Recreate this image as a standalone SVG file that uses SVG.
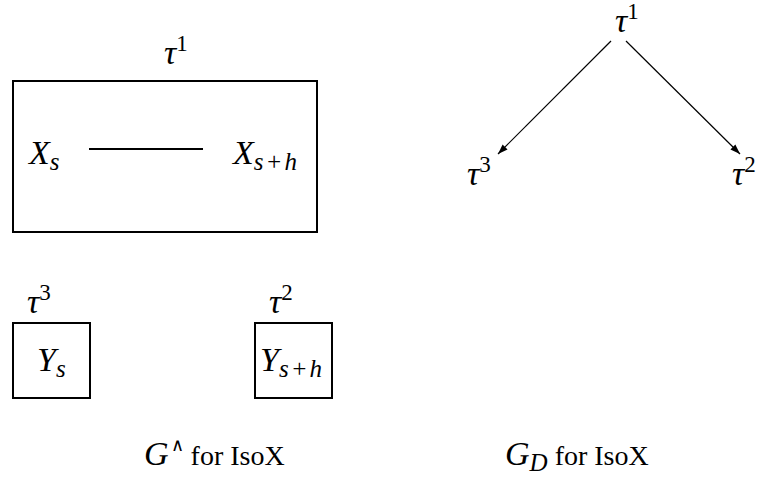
<svg xmlns="http://www.w3.org/2000/svg" width="771" height="484" viewBox="0 0 771 484" font-family="Liberation Serif, DejaVu Serif, serif">
<style>
text{font-family:'Liberation Serif',serif;fill:#000}
.m{font-style:italic;font-size:34px}
.r{font-size:28px;font-style:normal}
.sup{font-size:23px;font-style:normal}
.sub{font-size:25px;font-style:italic;letter-spacing:2px}
.subd{font-size:25px;font-style:italic}
.wedge{font-size:18px;font-style:normal}
.box{fill:none;stroke:#000;stroke-width:2}
.edge{fill:none;stroke:#000;stroke-width:1.2}
</style>
<defs>
<marker id="ah" viewBox="0 0 10 10" refX="10" refY="5" markerWidth="10" markerHeight="10" markerUnits="userSpaceOnUse" orient="auto">
<path d="M0,1.5 L10,5 L0,8.5 Z" fill="#000"/>
</marker>
</defs>
<g id="tau1-box">
<rect class="box" x="13" y="81" width="304" height="151"/>
<text class="m" x="164" y="64">τ<tspan class="sup" dy="-13">1</tspan></text>
</g>
<g id="Xs"><text class="m" x="29" y="164">X<tspan class="sub" dy="6">s</tspan></text></g>
<g id="Xsh"><text class="m" x="233" y="164">X<tspan class="sub" dy="6">s+h</tspan></text></g>
<g id="tau3-box">
<rect class="box" x="13" y="323" width="77" height="75"/>
<text class="m" x="27" y="313">τ<tspan class="sup" dy="-13">3</tspan></text>
<text class="m" x="37" y="371">Y<tspan class="sub" dy="6">s</tspan></text>
</g>
<g id="tau2-box">
<rect class="box" x="255" y="323" width="77" height="75"/>
<text class="m" x="269" y="313">τ<tspan class="sup" dy="-13">2</tspan></text>
<text class="m" x="260" y="371">Y<tspan class="sub" dy="6">s+h</tspan></text>
</g>
<g id="caption-left"><text class="m" x="144" y="465">G<tspan class="wedge" dx="2" dy="-14">∧</tspan><tspan class="r" dy="14"> for IsoX</tspan></text></g>
<g id="gd-tau1"><text class="m" x="615" y="32">τ<tspan class="sup" dy="-13">1</tspan></text></g>
<g id="gd-tau3"><text class="m" x="467" y="185">τ<tspan class="sup" dy="-13">3</tspan></text></g>
<g id="gd-tau2"><text class="m" x="732" y="185">τ<tspan class="sup" dy="-13">2</tspan></text></g>
<g id="caption-right"><text class="m" x="505" y="465">G<tspan class="subd" dy="6">D</tspan><tspan class="r" dy="-6"> for IsoX</tspan></text></g>
<g id="connectors">
<line x1="89" y1="149" x2="203" y2="149" stroke="#000" stroke-width="2"/>
<line class="edge" x1="611" y1="41" x2="498" y2="154" marker-end="url(#ah)"/>
<line class="edge" x1="626" y1="41" x2="740" y2="154" marker-end="url(#ah)"/>
</g>
</svg>
